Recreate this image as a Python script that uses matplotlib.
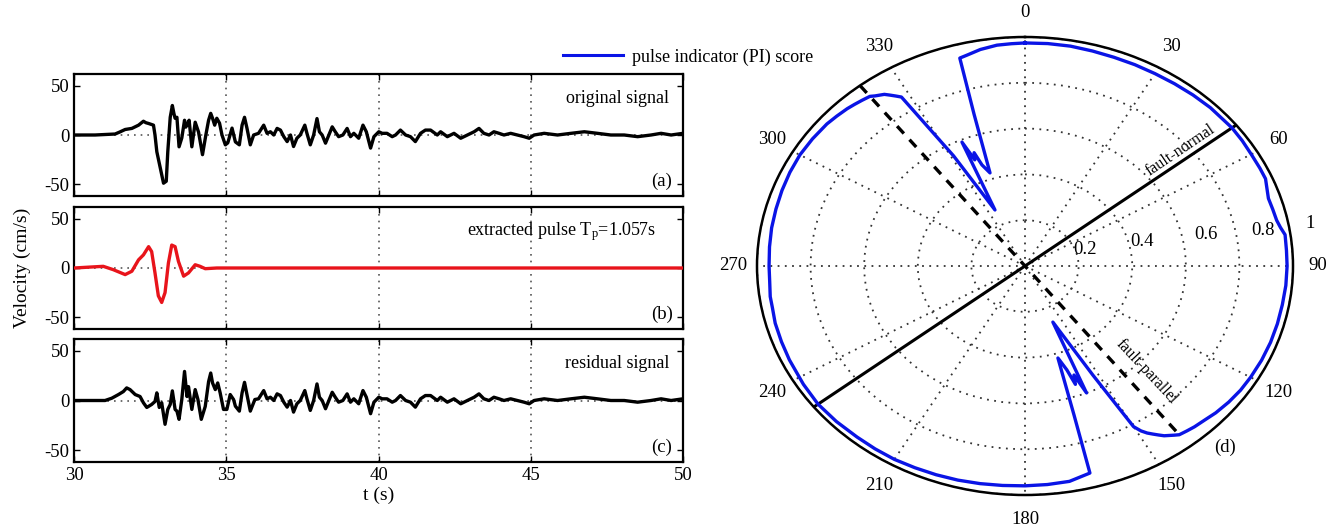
import numpy as np
import matplotlib
matplotlib.use("Agg")
import matplotlib.pyplot as plt
from matplotlib.lines import Line2D

plt.rcParams['font.family'] = ['Liberation Serif', 'DejaVu Serif']
plt.rcParams['axes.unicode_minus'] = False
plt.rcParams['mathtext.fontset'] = 'custom'
plt.rcParams['mathtext.rm'] = 'Liberation Serif'
plt.rcParams['mathtext.it'] = 'Liberation Serif:italic'

# ---------------- data ----------------
orig_t = [30.0, 30.69, 31.35, 31.50, 31.68, 31.90, 32.12, 32.20, 32.28, 32.36, 32.45, 32.61,
          32.66, 32.72, 32.83, 32.94, 33.03, 33.08, 33.16, 33.23, 33.28, 33.32, 33.38, 33.45,
          33.54, 33.63, 33.67, 33.71, 33.78, 33.87, 33.98, 34.09, 34.22, 34.33, 34.42, 34.49,
          34.55, 34.62, 34.69, 34.78, 34.86, 34.97, 35.05, 35.19, 35.30, 35.43, 35.52, 35.60,
          35.68, 35.79, 35.90]
orig_v = [0, 0, 1, 3, 5.6, 6.7, 10, 12, 14, 12.5, 11.7, 10,
          0, -17, -33, -49, -47, -17, 18, 30, 22, 17, 18, -12,
          -3, 15, 8, 10, 15, -12, 13, 3, -20, 0, 15, 22,
          17, 10, 17, 12, 0, -10, -8, 7, -7, -10, 10, 18,
          7, -10, 0]

resid_t = [30.0, 30.69, 31.02, 31.24, 31.46, 31.62, 31.73, 31.84, 32.01, 32.17, 32.28, 32.39,
           32.55, 32.66, 32.72, 32.80, 32.88, 32.99, 33.08, 33.16, 33.23, 33.32, 33.38, 33.45,
           33.54, 33.63, 33.71, 33.76, 33.87, 33.98, 34.07, 34.18, 34.31, 34.42, 34.49, 34.55,
           34.64, 34.72, 34.80, 34.91, 35.02, 35.13, 35.24, 35.30, 35.43, 35.52, 35.60, 35.68,
           35.79, 35.94]
resid_v = [0, 0, 0, 2.3, 6, 9, 12.7, 11, 6, 4, -2.3, -7,
           -4, -1, 7.7, -7, -2.3, -24, -9, -4, 9.7, -9, -10.7, -19,
           1, 29.3, 4, 14, -9, 11, 1, -19, -6, 19, 27.7, 17.7,
           11, 17.7, 7.7, -9, -9, 6, 1, -5.7, -10.7, 7.7, 18.3, 6,
           -10.7, 1]

# coda after ~36 s (same in the original and the residual trace)
coda_t = [36.06, 36.23, 36.34, 36.45, 36.56, 36.67, 36.78, 36.89, 37.00, 37.11, 37.21, 37.32,
          37.43, 37.58, 37.65, 37.76, 37.87, 37.98, 38.06, 38.15, 38.26, 38.37, 38.48, 38.58,
          38.69, 38.83, 38.97, 39.08, 39.19, 39.35, 39.49, 39.60, 39.74, 39.85, 40.01, 40.12,
          40.28, 40.45, 40.56, 40.72, 40.89, 41.05, 41.21, 41.38, 41.54, 41.71, 41.93, 42.04,
          42.26, 42.48, 42.70, 42.92, 43.14, 43.30, 43.46, 43.63, 43.79, 43.96, 44.12, 44.34,
          44.56, 44.78, 44.95, 45.11, 45.44, 45.88, 46.32, 46.76, 47.19, 47.63, 48.07, 48.51,
          48.95, 49.28, 49.61, 50.0]
coda_v = [1.7, 10, 1.7, 3.3, 0, 6.7, 5, -1.7, -6.7, 0, -11.7, -3.3,
          0, 10, 1.7, -10, 0, 16.7, 3.3, 0, -8.3, 0, 8.3, 3.3,
          -1.7, 0, 6.7, -1.7, 1.7, -3.3, 10, 3.3, -13.3, -1.7, 3.3, 1.7,
          1.7, -1.7, 0, 5, 0, -1.7, -6.7, 1.7, 5, 5, 0, 3.3,
          -1.7, 1.7, -3.3, 0, 3.3, 6.7, 1.7, 0, 3.3, 1.7, 0, 1.7,
          0, -1.7, -3.3, 0, 1.7, 0, 1.7, 3.3, 1.7, 0, 0, -1.7,
          0, 1.7, 0, 1.7]

pulse_t = [30.0, 30.96, 31.29, 31.68, 31.90, 32.12, 32.28, 32.45, 32.55, 32.66, 32.77, 32.88,
           32.99, 33.10, 33.21, 33.32, 33.43, 33.60, 33.76, 33.98, 34.14, 34.31, 34.69, 50.0]
pulse_v = [0, 1.7, -1.7, -6.7, -3.3, 8.3, 13.3, 21.7, 16.7, -5, -28.3, -35,
           -25, 5, 23.3, 21.7, 6.7, -8.3, -5, 3.3, 1.7, -0.7, 0, 0]

# PI score versus rotation angle (deg, clockwise from north)
pi_theta = [0, 5, 10, 15, 20, 25, 30, 35, 40, 45, 52, 56, 60, 64, 67, 70, 72, 75, 78, 80,
            82, 86, 90, 95, 100, 105, 110, 115, 120, 124, 128, 132, 135, 138, 140, 142, 143,
            145, 146, 147, 148, 149, 150, 152, 157, 157.5, 159, 160, 161, 163, 164.3, 165,
            170, 175, 180,
            185, 190, 195, 200, 205, 210, 215, 220, 226, 232, 238, 245, 250, 255, 259, 262,
            266, 270, 275, 280, 285, 290, 295, 300, 305, 310, 313, 316, 318, 320, 322, 323,
            325, 326, 327, 328, 331, 335.4, 336.5, 338, 339, 340, 342.2, 344, 345, 346.8,
            350, 353.8, 357, 360]
pi_r = [0.974, 0.975, 0.975, 0.972, 0.97, 0.97, 0.97, 0.972, 0.975, 0.978, 0.98, 0.978,
        0.975, 0.975, 0.975, 0.962, 0.955, 0.957, 0.96, 0.968, 0.98, 0.978, 0.978, 0.977,
        0.975, 0.975, 0.975, 0.974, 0.972, 0.97, 0.965, 0.958, 0.95, 0.945, 0.94, 0.935,
        0.925, 0.905, 0.89, 0.875, 0.86, 0.84, 0.81, 0.54, 0.266, 0.60, 0.51, 0.55, 0.48,
        0.42, 0.676, 0.936, 0.955, 0.958, 0.96,
        0.962, 0.965, 0.968, 0.97, 0.972, 0.975, 0.975, 0.975, 0.978, 0.98, 0.975, 0.97,
        0.967, 0.965, 0.96, 0.96, 0.955, 0.955, 0.957, 0.96, 0.962, 0.965, 0.968, 0.97,
        0.968, 0.965, 0.96, 0.955, 0.95, 0.945, 0.94, 0.93, 0.915, 0.90, 0.885, 0.87, 0.55,
        0.269, 0.59, 0.50, 0.53, 0.47, 0.427, 0.69, 0.94, 0.946, 0.96, 0.97, 0.972, 0.974]

fault_normal_deg = 52
fault_parallel_deg = 142

yticks = [-50, 0, 50]
xticks = [30, 35, 40, 45, 50]
theta_labels = ['0', '30', '60', '90', '120', '150', '180', '210', '240', '270', '300', '330']
r_ticks = [0.2, 0.4, 0.6, 0.8, 1.0]
r_labels = ['0.2', '0.4', '0.6', '0.8', '1']

FS = 13.5

fig = plt.figure(figsize=(13.38, 5.31), dpi=100)

L, W = 74 / 1338, 609 / 1338
panel_boxes = [(196, 74), (329, 207), (462, 339)]
series = [
    (orig_t + coda_t, orig_v + coda_v, 'black', 'original signal', '(a)'),
    (pulse_t, pulse_v, '#e8141b', r'extracted pulse T$_\mathrm{p}$=1.057s', '(b)'),
    (resid_t + coda_t, resid_v + coda_v, 'black', 'residual signal', '(c)'),
]
axes = []
for i, ((bot, top), (t, v, col, txt, tag)) in enumerate(zip(panel_boxes, series)):
    ax = fig.add_axes([L, (531 - bot) / 531, W, (bot - top) / 531])
    ax.plot(t, v, color=col, lw=2.4, zorder=3)
    ax.axhline(0, color='#555555', ls=(0, (1, 3)), lw=1.2, zorder=1)
    ax.set_xlim(30, 50)
    ax.set_ylim(-62, 62)
    ax.set_xticks(xticks)
    ax.set_yticks(yticks)
    ax.grid(True, axis='x', color='#555555', ls=(0, (1, 3)), lw=1.2)
    ax.tick_params(direction='in', top=True, right=True, length=4, labelsize=FS, width=1)
    for s in ax.spines.values():
        s.set_linewidth(1.6)
    if i < 2:
        ax.set_xticklabels([])
    ax.text(0.892 if i != 1 else 0.80, 0.80, txt, transform=ax.transAxes, ha='center',
            va='center', fontsize=FS - 0.5)
    ax.text(0.965, 0.12, tag, transform=ax.transAxes, ha='center', va='center', fontsize=FS)
    axes.append(ax)

axes[2].set_xlabel('t (s)', fontsize=FS + 0.5, labelpad=2)
fig.text(22 / 1338, 1 - 268 / 531, 'Velocity (cm/s)', rotation=90, ha='center', va='center',
         fontsize=FS + 0.5)

# ---------------- polar panel ----------------
axp = fig.add_axes([757 / 1338, 36 / 531, 536 / 1338, 458 / 531], projection='polar')
axp.set_theta_zero_location('N')
axp.set_theta_direction(-1)
axp.set_aspect('auto')
axp.set_ylim(0, 1)
axp.set_xticks(np.deg2rad(np.arange(0, 360, 30)))
axp.set_xticklabels(theta_labels, fontsize=FS)
axp.set_yticks(r_ticks)
axp.set_yticklabels([])
axp.tick_params(axis='x', pad=7)
axp.grid(True, color='#333333', ls=(0, (1, 3)), lw=1.3)
axp.spines['polar'].set_linewidth(1.8)

axp.plot(np.deg2rad(pi_theta), pi_r, color='#0a14e6', lw=2.4, zorder=4)

fn = np.deg2rad([fault_normal_deg + 180, fault_normal_deg + 180, fault_normal_deg, fault_normal_deg])
axp.plot(fn, [1, 0, 0, 1], color='black', lw=2.2, zorder=3)
fp = np.deg2rad([fault_parallel_deg + 180, fault_parallel_deg + 180, fault_parallel_deg, fault_parallel_deg])
axp.plot(fp, [1, 0, 0, 0.94], color='black', lw=2.4, ls=(0, (3, 2.5)), zorder=3)

for lab, ang, rr in zip(r_labels, [72, 76, 78.5, 80, 80], [0.235, 0.45, 0.69, 0.90, 1.08]):
    axp.text(np.deg2rad(ang), rr, lab, ha='center', va='center', fontsize=FS)

fig.text(1180 / 1338, 1 - 150 / 531, 'fault-normal', rotation=34, ha='center', va='center',
         fontsize=FS - 2)
fig.text(1146 / 1338, 1 - 372 / 531, 'fault-parallel', rotation=-47, ha='center', va='center',
         fontsize=FS - 2)
fig.text(1225 / 1338, 1 - 447 / 531, '(d)', ha='center', va='center', fontsize=FS)

fig.legend(handles=[Line2D([], [], color='#0a14e6', lw=2.2)], labels=['pulse indicator (PI) score'],
           loc='center left', bbox_to_anchor=(563 / 1338, 1 - 57 / 531), frameon=False,
           handlelength=3.3, handletextpad=0.5, fontsize=FS - 0.5, borderaxespad=0, borderpad=0)

fig.savefig('out.png', dpi=100)
